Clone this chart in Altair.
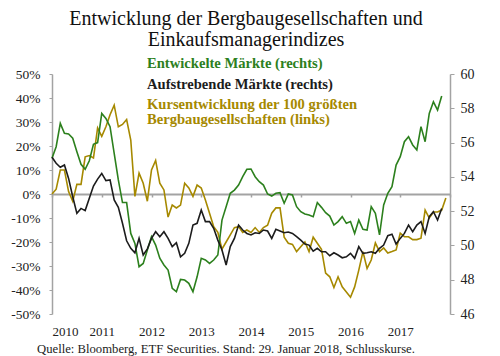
import altair as alt
import pandas as pd

# ---------------- data ----------------
years = [2010, 2011, 2012, 2013, 2014, 2015, 2016, 2017]
tick_years = [2010, 2011, 2012, 2013, 2014, 2015, 2016, 2017, 2018]

# Kursentwicklung der 100 größten Bergbaugesellschaften (links, %), monthly Jan 2010 - Dec 2017
mining = [0, 2, 10, 10, 1, -3, 4, 4, 15.5, 16, 15, 27.5,
          24, 28, 33, 37, 28, 29, 31, 22.5, -1, 8.7, 4.5, -3,
          10, 14, 4.5, 1.7, -9.6, -4.6, -5.8, -4.6, 4.5, 2.5, -1, 3.7,
          2.5, -2.5, -8, -13.6, -16, -23, -20, -17, -14, -13.6, -16, -15,
          -16, -14, -16, -14, -13, -8, -5.8, -5.8, -18, -20.5, -21, -24,
          -22, -20, -24, -18, -20.5, -23, -33, -34.5, -39, -34.5, -38.7, -40.8,
          -43, -38.7, -31.7, -24, -31, -27.5, -20.4, -24, -22.5, -24.6, -24, -23.3,
          -16.3, -17.8, -17.8, -19, -19, -18.4, -6.7, -10, -7.5, -7.5, -6.7, -1.7]

# Entwickelte Märkte (rechts), monthly Jan 2010 - Nov 2017
developed = [55.08, 55.76, 57.12, 56.54, 56.5, 56.25, 55.47, 54.73, 54.44, 54.94, 55.9, 56.0,
             57.7, 57.41, 56.93, 55.37, 53.82, 52.5, 52.5, 50.7, 50.12, 48.76, 48.95, 49.73,
             50.51, 50.02, 49.25, 48.86, 48.56, 47.5, 47.3, 48.02, 47.98, 47.79, 47.3, 48.17,
             49.25, 49.15, 48.95, 49.15, 49.44, 51.48, 52.26, 53.04, 53.23, 53.52, 54.01, 54.44,
             54.46, 54.01, 53.72, 53.52, 53.0, 52.88, 53.04, 53.08, 52.46, 53.0, 52.94, 52.26,
             51.97, 51.83, 51.77, 51.68, 52.5, 52.22, 51.91, 51.71, 51.19, 51.39, 51.68, 51.29,
             51.39, 50.7, 51.48, 50.94, 50.9, 52.26, 51.87, 50.61, 52.36, 53.04, 53.43, 54.69,
             55.18, 56.05, 56.34, 55.86, 55.57, 56.93, 56.05, 57.7, 58.38, 57.9, 58.72]

# Aufstrebende Märkte (rechts), monthly Jan 2010 - Nov 2017
emerging = [55.14, 54.79, 54.56, 54.69, 53.91, 52.84, 51.87, 52.16, 52.03, 52.75, 53.46, 53.87,
            54.2, 53.78, 53.82, 52.65, 52.22, 51.29, 50.27, 49.83, 49.57, 50.41, 49.44, 49.8,
            50.41, 50.8, 50.51, 50.8, 50.41, 49.93, 50.16, 49.34, 49.54, 50.12, 51.19, 51.29,
            52.07, 51.39, 51.39, 51.0, 50.31, 49.73, 48.86, 49.93, 50.41, 51.19, 50.9, 50.7,
            50.61, 50.74, 50.7, 50.9, 50.84, 50.41, 50.94, 50.84, 50.74, 50.78, 50.7, 50.51,
            50.31, 50.08, 50.02, 49.67, 49.83, 49.63, 49.63, 49.4, 49.57, 49.44, 49.28, 49.34,
            49.54, 49.25, 49.93, 49.54, 49.57, 49.63, 49.54, 49.83, 50.02, 50.57, 50.65, 50.08,
            50.41, 50.7, 51.19, 50.8, 51.19, 51.39, 50.7, 51.68, 51.97, 51.48, 52.16]

left_ticks = [-0.5, -0.4, -0.3, -0.2, -0.1, 0, 0.1, 0.2, 0.3, 0.4, 0.5]
right_ticks = [46, 48, 50, 52, 54, 56, 58, 60]

series_names = ["Entwickelte Märkte", "Aufstrebende Märkte"]
legend_labels = ["Entwickelte Märkte (rechts)", "Aufstrebende Märkte (rechts)",
                 "Kursentwicklung der 100 größten", "Bergbaugesellschaften (links)"]
title_lines = ["Entwicklung der Bergbaugesellschaften und", "Einkaufsmanagerindizes"]
source_text = "Quelle: Bloomberg, ETF Securities. Stand: 29. Januar 2018, Schlusskurse."

# ---------------- styling ----------------
FONT = "Liberation Serif"
GREEN = "#2c801d"
BLACK = "#1c1c1c"
GOLD = "#a68900"
GRAY = "#a3a3a3"
W, H = 398, 240

df_m = pd.DataFrame({"t": [2010 + i / 12 for i in range(len(mining))],
                     "v": [m / 100 for m in mining]})
n = len(developed)
df_p = pd.DataFrame({
    "t": [2010 + i / 12 for i in range(n)] * 2,
    "v": developed + emerging,
    "s": [series_names[0]] * n + [series_names[1]] * n,
})

xscale = alt.Scale(domain=[2010, 2018], nice=False, zero=False)

gold = alt.Chart(df_m).mark_line(color=GOLD, strokeWidth=1.6).encode(
    x=alt.X("t:Q", scale=xscale,
            axis=alt.Axis(orient="bottom", offset=-H / 2, values=tick_years, labels=False,
                          ticks=True, tickSize=3, tickColor=GRAY, tickWidth=1.5,
                          domainColor=GRAY, domainWidth=2, grid=False, title=None)),
    y=alt.Y("v:Q", scale=alt.Scale(domain=[-0.5, 0.5], nice=False),
            axis=alt.Axis(orient="left", values=left_ticks, grid=False, title=None,
                          labelExpr="(datum.value < 0 ? '-' : '') + format(abs(datum.value), '.0%')",
                          domainColor=GRAY, domainWidth=1.5, tickColor=GRAY, tickWidth=1,
                          tickSize=3, labelPadding=9, labelFont=FONT, labelFontSize=13.5,
                          labelColor="#222222")),
)

pmi = alt.Chart(df_p).mark_line(strokeWidth=1.6).encode(
    x=alt.X("t:Q", scale=xscale,
            axis=alt.Axis(orient="bottom", values=years, format="d", domain=False, ticks=False,
                          labelPadding=11, labelFont=FONT, labelFontSize=13,
                          labelColor="#222222", grid=False, title=None)),
    y=alt.Y("v:Q", scale=alt.Scale(domain=[46, 60], nice=False, zero=False),
            axis=alt.Axis(orient="right", values=right_ticks, grid=False, title=None,
                          domainColor=GRAY, domainWidth=1.5, tickColor=GRAY, tickWidth=1,
                          tickSize=4, labelPadding=6, labelFont=FONT, labelFontSize=14,
                          labelColor="#222222")),
    color=alt.Color("s:N", scale=alt.Scale(domain=series_names, range=[GREEN, BLACK]),
                    legend=None),
)

legend_colors = [GREEN, BLACK, GOLD, GOLD]
legend_y = [-10, 11, 31, 46]
texts = []
for lab, col, yy in zip(legend_labels, legend_colors, legend_y):
    texts.append(
        alt.Chart(pd.DataFrame({"label": [lab]})).mark_text(
            align="left", baseline="middle", font=FONT, fontSize=14.6,
            fontWeight="bold", color=col
        ).encode(text="label:N", x=alt.value(95), y=alt.value(yy))
    )

src = alt.Chart(pd.DataFrame({"label": [source_text]})).mark_text(
    align="left", baseline="alphabetic", font=FONT, fontSize=12.7, color="#222222"
).encode(text="label:N", x=alt.value(-15), y=alt.value(279))

chart = alt.layer(gold, pmi, *texts, src).resolve_scale(
    x="shared", y="independent"
).resolve_axis(
    x="independent", y="independent"
).properties(
    width=W, height=H,
    padding={"left": 44, "top": 66, "right": 42, "bottom": 42},
    autosize=alt.AutoSizeParams(type="none"),
    title=alt.Title(title_lines, font=FONT, fontSize=20, fontWeight="normal",
                    color="#111111", lineHeight=21.5, anchor="middle", offset=6, dx=-5),
).configure_view(stroke=None)

chart.save("out.html", embed_options={"renderer": "svg", "actions": False})
